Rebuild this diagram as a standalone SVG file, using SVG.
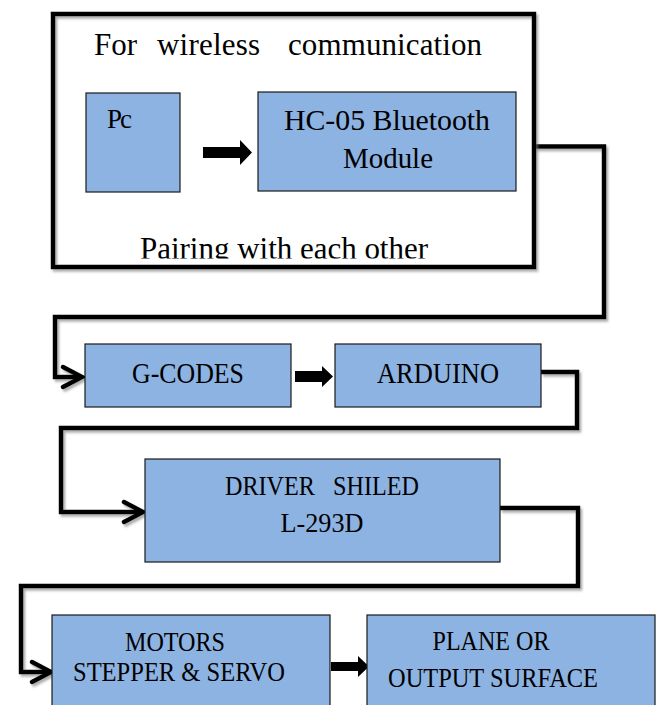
<svg xmlns="http://www.w3.org/2000/svg" width="659" height="705" viewBox="0 0 659 705">
<style>
.box{fill:#8db3e2;stroke:#1a1a1a;stroke-width:1.2}
.t{font-family:"Liberation Serif","Times New Roman",serif;fill:#000}
.conn{fill:none;stroke:#000;stroke-width:4.5;stroke-linejoin:miter}
.head{fill:none;stroke:#000;stroke-width:4.5;stroke-linecap:round;stroke-linejoin:miter}
.blk{fill:#000}
</style>
<defs>
<filter id="sh" x="-5%" y="-5%" width="110%" height="110%">
<feDropShadow dx="2" dy="2.5" stdDeviation="1.2" flood-color="#777" flood-opacity="0.6"/>
</filter>
<clipPath id="clipOuter"><rect x="55" y="16" width="477" height="242.5"/></clipPath>
</defs>
<rect width="659" height="705" fill="#fff"/>

<g id="connectors" filter="url(#sh)">
<path class="conn" d="M534,146.5 H604 V317 H55 V377 H81"/>
<path class="head" d="M63,367 L82,377 L63,387"/>
<path class="conn" d="M541,372 H577 V428 H61 V512 H142"/>
<path class="head" d="M124,502 L143,512 L124,522"/>
<path class="conn" d="M500,508 H578 V586 H21 V672 H50"/>
<path class="head" d="M32,662 L51,672 L32,682"/>
</g>

<g id="wireless">
<rect x="53" y="14" width="481" height="253" fill="#fff" stroke="none"/>
<text class="t" font-size="31" y="55"><tspan x="94" textLength="43">For</tspan><tspan x="157" textLength="103">wireless</tspan><tspan x="288" textLength="194">communication</tspan></text>
<text class="t" font-size="31" x="140" y="259" textLength="288" lengthAdjust="spacingAndGlyphs" clip-path="url(#clipOuter)">Pairing with each other</text>
<rect x="53" y="14" width="481" height="253" fill="none" stroke="#000" stroke-width="4.5" filter="url(#sh)"/>
</g>

<g id="pc">
<rect class="box" x="86" y="93" width="94" height="99"/>
<text class="t" font-size="27" x="107" y="128" textLength="25">Pc</text>
</g>

<g id="arrow-pc-hc">
<polygon class="blk" points="203,147 240,147 240,140 252,152.5 240,165 240,158 203,158"/>
</g>

<g id="hc05">
<rect class="box" x="258" y="92" width="258" height="99"/>
<text class="t" font-size="30" x="387" y="130" text-anchor="middle" textLength="206" lengthAdjust="spacingAndGlyphs">HC-05 Bluetooth</text>
<text class="t" font-size="30" x="388" y="168" text-anchor="middle" textLength="90" lengthAdjust="spacingAndGlyphs">Module</text>
</g>

<g id="gcodes">
<rect class="box" x="85" y="344" width="206" height="63"/>
<text class="t" font-size="30" x="188" y="383" text-anchor="middle" textLength="112" lengthAdjust="spacingAndGlyphs">G-CODES</text>
</g>

<g id="arrow-g-a">
<polygon class="blk" points="295,371 322,371 322,366 333,376.5 322,387 322,382 295,382"/>
</g>

<g id="arduino">
<rect class="box" x="335" y="344" width="206" height="63"/>
<text class="t" font-size="30" x="438" y="383" text-anchor="middle" textLength="122" lengthAdjust="spacingAndGlyphs">ARDUINO</text>
</g>

<g id="driver">
<rect class="box" x="145" y="459" width="355" height="103"/>
<text class="t" font-size="28" x="322" y="495" text-anchor="middle" textLength="194" lengthAdjust="spacingAndGlyphs" xml:space="preserve">DRIVER   SHILED</text>
<text class="t" font-size="28" x="322" y="532" text-anchor="middle" textLength="83" lengthAdjust="spacingAndGlyphs">L-293D</text>
</g>

<g id="motors">
<rect class="box" x="52" y="615" width="278" height="100"/>
<text class="t" font-size="28" x="175" y="651" text-anchor="middle" textLength="100" lengthAdjust="spacingAndGlyphs">MOTORS</text>
<text class="t" font-size="28" x="179" y="681" text-anchor="middle" textLength="212" lengthAdjust="spacingAndGlyphs">STEPPER &amp; SERVO</text>
</g>

<g id="arrow-m-p">
<polygon class="blk" points="331,662 358,662 358,656 369,666.5 358,677 358,671 331,671"/>
</g>

<g id="plane">
<rect class="box" x="367" y="615" width="288" height="100"/>
<text class="t" font-size="28" x="491" y="650" text-anchor="middle" textLength="117" lengthAdjust="spacingAndGlyphs">PLANE OR</text>
<text class="t" font-size="28" x="493" y="687" text-anchor="middle" textLength="210" lengthAdjust="spacingAndGlyphs">OUTPUT SURFACE</text>
</g>
</svg>
